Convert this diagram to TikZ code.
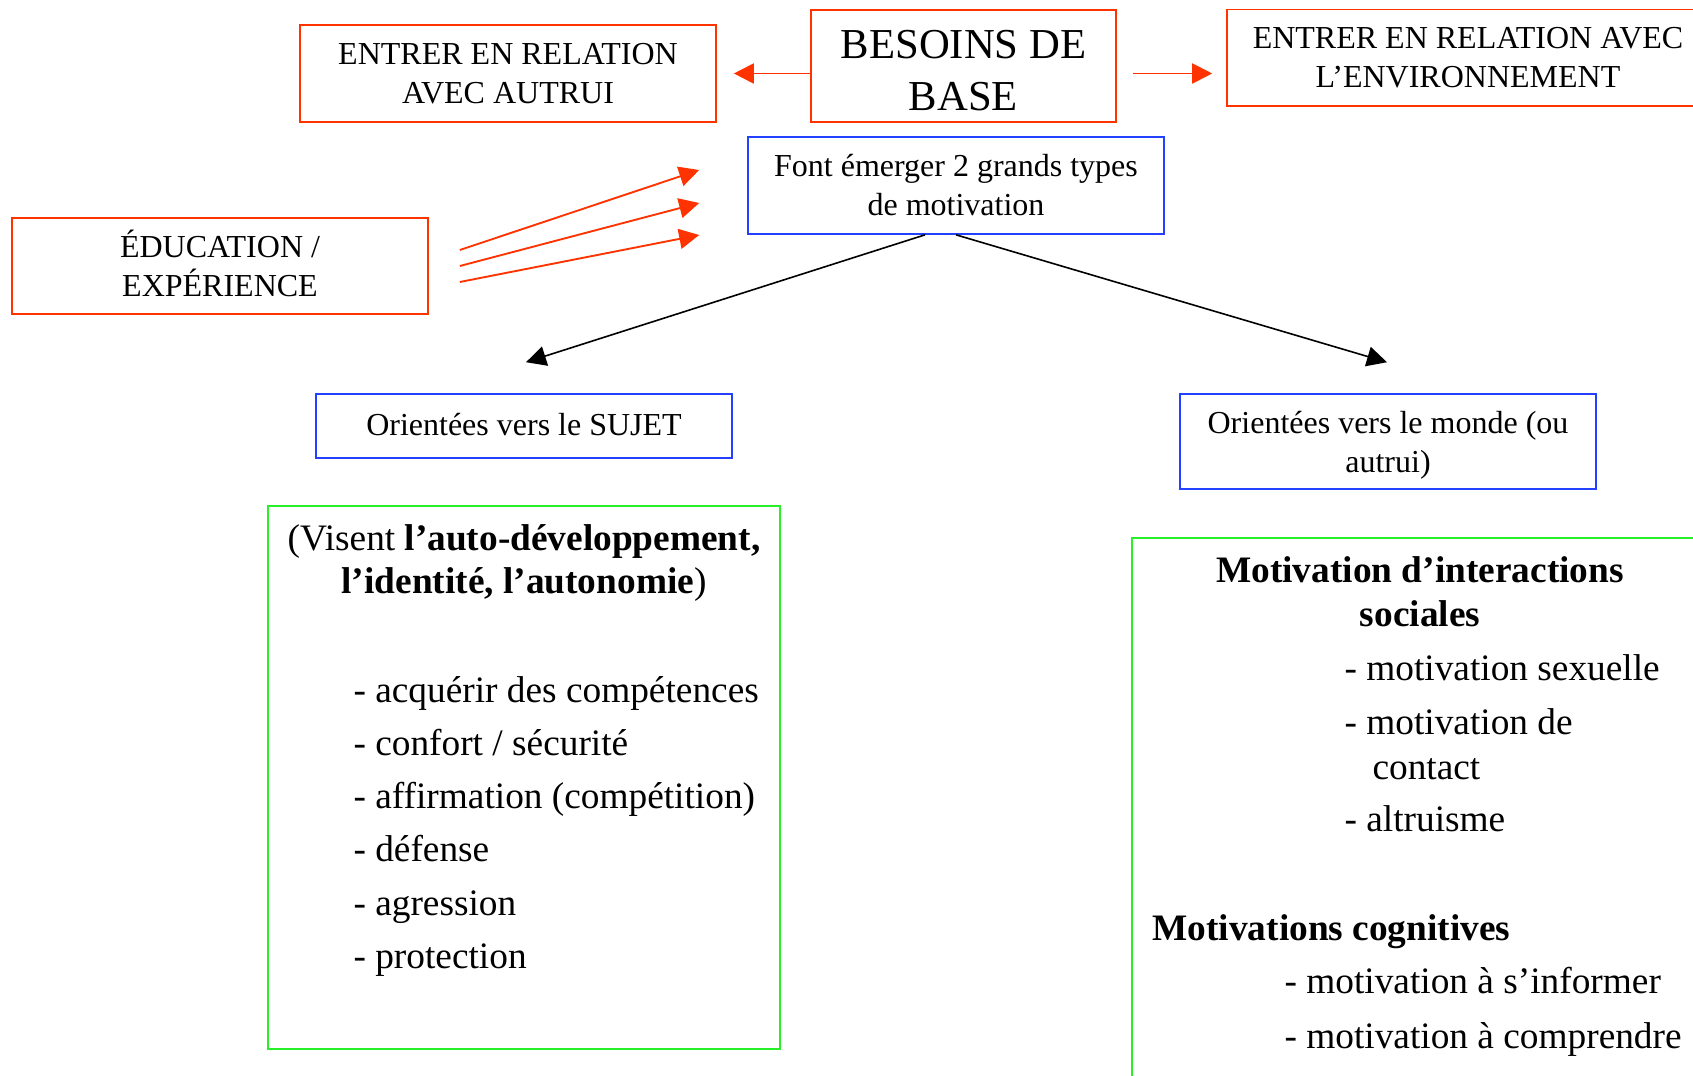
\documentclass[tikz,border=0pt]{standalone}
\usepackage{fontspec}
\setmainfont{Liberation Serif}
\usetikzlibrary{arrows.meta,calc}

\definecolor{lienrouge}{RGB}{255,51,0}
\definecolor{lienbleu}{RGB}{35,65,255}
\definecolor{lienvert}{RGB}{40,240,40}

\tikzset{
  rouge/.style={draw=lienrouge, line width=0.6pt, inner sep=0pt, align=center,
    font=\fontsize{12}{14.6}\selectfont},
  bleu/.style={draw=lienbleu, line width=0.6pt, inner sep=0pt, align=center,
    font=\fontsize{12}{14.6}\selectfont},
  vert/.style={draw=lienvert, line width=0.8pt, inner sep=0pt},
  texte/.style={inner sep=0pt, font=\fontsize{14}{16.3}\selectfont},
  fleche/.style={line width=0.7pt, -{Triangle[length=7.5pt,width=7.5pt]}},
}

\begin{document}
\begin{tikzpicture}[x=0.375pt, y=-0.375pt]

% Page frame (1 unit = 1 pixel of the sheet)
\useasboundingbox (0,0) rectangle (1693,1076);
\clip (0,0) rectangle (1693,1076);

% Besoins de base and the two relations
\node[rouge, font=\fontsize{16}{19.5}\selectfont, minimum width=114.4pt, minimum height=42pt]
  (besoins) at (963.5,66) {\rule{0pt}{14pt}BESOINS DE\\BASE};
\node[rouge, minimum width=156pt, minimum height=36.4pt]
  (autrui) at (508,73.5) {ENTRER EN RELATION\\AVEC AUTRUI};
\node[rouge, minimum width=180.75pt, minimum height=36.2pt]
  (environnement) at (1468,57.75) {ENTRER EN RELATION AVEC\\L’ENVIRONNEMENT};

% Education
\node[rouge, minimum width=156pt, minimum height=36pt]
  (education) at (220,266) {ÉDUCATION /\\EXPÉRIENCE\rule[-2.2pt]{0pt}{2.2pt}};

% Two big types of motivation
\node[bleu, minimum width=156pt, minimum height=36.4pt]
  (emerger) at (956,185.5) {Font émerger 2 grands types\\de motivation};
\node[bleu, minimum width=156pt, minimum height=24pt]
  (sujet) at (524,426) {Orientées vers le SUJET\rule[-1.5pt]{0pt}{1.5pt}};
\node[bleu, minimum width=156pt, minimum height=35.6pt]
  (monde) at (1388,441.5) {\rule{0pt}{10.9pt}Orientées vers le monde (ou\\autrui)};

% Green boxes
\node[vert, minimum width=192pt, minimum height=203.6pt] (listesujet) at (524,777.5) {};
\node[vert, minimum width=225pt, minimum height=225pt] (listemonde) at (1432,838) {};

% Left list
\node[texte, anchor=base] (visent) at (524,550) {(Visent \textbf{l’auto-développement,}};
\node[texte, anchor=base] (identite) at (524,593) {\textbf{l’identité, l’autonomie})};
\foreach \t [count=\i] in {acquérir des compétences, {confort / sécurité},
    affirmation (compétition), défense, agression, protection}
  \node[texte, anchor=base west] (item\i) at (353,{648.7+53.3*\i}) {- \t};

% Right list
\node[texte, anchor=base] (interactions) at (1420,582) {\textbf{Motivation d’interactions}};
\node[texte, anchor=base] (sociales) at (1420,626) {\textbf{sociales}};
\node[texte, anchor=base west] (sexuelle) at (1344,680) {- motivation sexuelle};
\node[texte, anchor=base west] (contacta) at (1344,734) {- motivation de};
\node[texte, anchor=base west] (contactb) at (1372,779) {contact};
\node[texte, anchor=base west] (altruisme) at (1344,831) {- altruisme};
\node[texte, anchor=base west] (cognitives) at (1152,940) {\textbf{Motivations cognitives}};
\node[texte, anchor=base west] (informer) at (1284,993) {- motivation à s’informer};
\node[texte, anchor=base west] (comprendre) at (1284,1048) {- motivation à comprendre};

% Besoins towards both relations
\draw[fleche, lienrouge] (besoins.west |- autrui.east) -- ($(autrui.east)+(17,0)$);
\draw[fleche, lienrouge] ($(besoins.east |- autrui.east)+(16,0)$)
  -- ($(environnement.west |- autrui.east)+(-14,0)$);

% Education feeds the motivation
\foreach \a/\b in {-16/-15.5, 0/17.5, 16/49.5}
  \draw[fleche, lienrouge] ($(education.east)+(31,\a)$) -- ($(emerger.west)+(-48,\b)$);

% Split into the two orientations
\draw[fleche, line width=0.6pt] ($(emerger.south)+(-31,0)$) -- ($(sujet.north)+(2,-31)$);
\draw[fleche, line width=0.6pt] (emerger.south) -- ($(monde.north)+(-1,-31)$);

\end{tikzpicture}
\end{document}
